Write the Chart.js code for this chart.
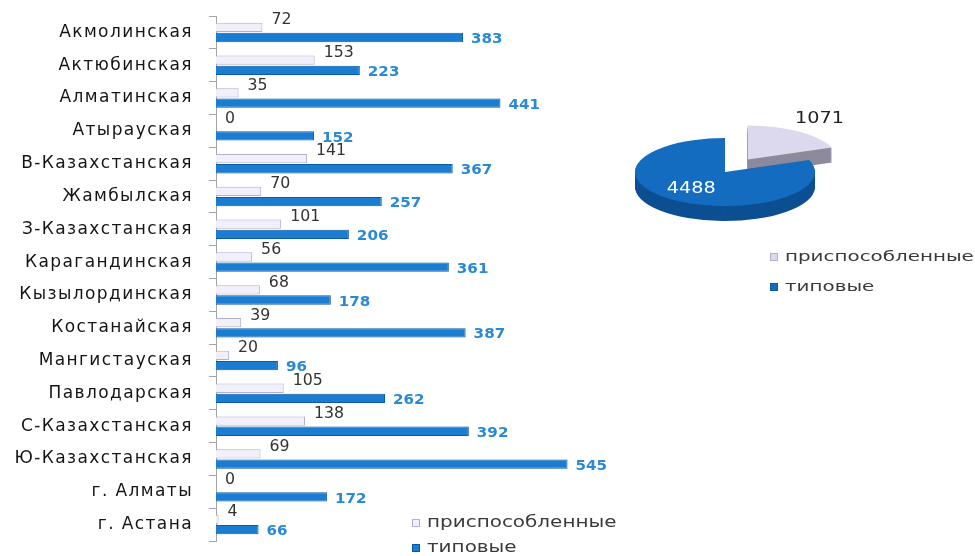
<!DOCTYPE html>
<html>
<head>
<meta charset="utf-8">
<script src="https://cdn.jsdelivr.net/npm/chart.js@4.4.1/dist/chart.umd.min.js"></script>
<style>
  html, body { margin: 0; padding: 0; background: #fff; }
  #wrap { position: relative; width: 975px; height: 556px; overflow: hidden; }
  #bars { position: absolute; left: 0; top: 0; }
  #pie { position: absolute; left: 600px; top: 62px; }
</style>
</head>
<body>
<div id="wrap">
  <canvas id="bars" width="660" height="556"></canvas>
  <canvas id="pie" width="375" height="262"></canvas>
</div>
<script>
const regions = [
  'Акмолинская', 'Актюбинская', 'Алматинская', 'Атырауская', 'В-Казахстанская',
  'Жамбылская', 'З-Казахстанская', 'Карагандинская', 'Кызылординская', 'Костанайская',
  'Мангистауская', 'Павлодарская', 'С-Казахстанская', 'Ю-Казахстанская', 'г. Алматы', 'г. Астана'
];
const adapted = [72, 153, 35, 0, 141, 70, 101, 56, 68, 39, 20, 105, 138, 69, 0, 4];
const typical = [383, 223, 441, 152, 367, 257, 206, 361, 178, 387, 96, 262, 392, 545, 172, 66];

const pieLabels = ['приспособленные', 'типовые'];
const pieTotals = [1071, 4488];

const lightFill = '#f1eff9', lightEdge = '#b3aed3';
const blueFill = '#1a7dd2', blueEdge = '#0b5aa6';
const font = 'DejaVu Sans';

// the source picture is stretched sideways, so text is widened to match
function wideText(ctx, text, x, y, sx) {
  ctx.save();
  ctx.translate(x, y);
  ctx.scale(sx, 1);
  ctx.fillText(text, 0, 0);
  ctx.restore();
}

function drawLegend(ctx, items, x, y, gap, size, sx) {
  ctx.save();
  ctx.font = size + 'px "' + font + '"';
  ctx.textBaseline = 'middle';
  ctx.textAlign = 'left';
  items.forEach((it, i) => {
    const yy = y + i * gap;
    ctx.fillStyle = it.fill;
    ctx.fillRect(x, yy - 4, 8, 8);
    ctx.strokeStyle = it.edge;
    ctx.lineWidth = 1;
    ctx.strokeRect(x + 0.5, yy - 3.5, 7, 7);
    ctx.fillStyle = '#3a3a3a';
    wideText(ctx, it.text, x + 15, yy, sx);
  });
  ctx.restore();
}

const barLabels = {
  id: 'barLabels',
  beforeDraw(chart) {
    chart.ctx.letterSpacing = '1.4px';
  },
  beforeDatasetsDraw(chart) {
    chart.ctx.letterSpacing = '0px';
  },
  afterDatasetsDraw(chart) {
    const ctx = chart.ctx;
    ctx.save();
    ctx.textBaseline = 'middle';
    ctx.textAlign = 'left';
    chart.data.datasets.forEach((ds, i) => {
      chart.getDatasetMeta(i).data.forEach((bar, j) => {
        if (i === 0) {
          ctx.font = '15px "' + font + '"';
          ctx.fillStyle = '#333';
          wideText(ctx, ds.data[j], bar.x + 9, bar.y - 7, 1.05);
        } else {
          ctx.font = 'bold 14px "' + font + '"';
          ctx.fillStyle = '#2a89d6';
          wideText(ctx, ds.data[j], bar.x + 8, bar.y + 2, 1.08);
        }
      });
    });
    ctx.restore();
  },
  afterDraw(chart) {
    drawLegend(chart.ctx, chart.data.datasets.map(d => ({
      text: d.label, fill: d.backgroundColor, edge: d.borderColor
    })), 412, 523, 25, 15, 1.33);
  }
};

new Chart(document.getElementById('bars'), {
  type: 'bar',
  data: {
    labels: regions,
    datasets: [
      {
        label: 'приспособленные',
        data: adapted,
        backgroundColor: lightFill,
        borderColor: lightEdge,
        borderWidth: 1,
        categoryPercentage: 0.62,
        barPercentage: 0.92
      },
      {
        label: 'типовые',
        data: typical,
        backgroundColor: blueFill,
        borderColor: blueEdge,
        borderWidth: 1,
        categoryPercentage: 0.62,
        barPercentage: 0.92
      }
    ]
  },
  options: {
    indexAxis: 'y',
    responsive: false,
    animation: false,
    layout: { padding: { left: 0, right: 57, top: 16, bottom: 15 } },
    scales: {
      x: { min: 0, max: 600, display: false },
      y: {
        afterFit: s => { s.width = 216; s.paddingTop = 0; s.paddingBottom = 0; },
        border: { color: '#a5a5a5' },
        grid: { drawOnChartArea: false, tickLength: 7, color: '#a5a5a5' },
        ticks: { color: '#151515', padding: 16, font: { family: font, size: 17 } }
      }
    },
    plugins: {
      legend: { display: false },
      tooltip: { enabled: false }
    }
  },
  plugins: [barLabels]
});

// flattened pie with depth, drawn from the arc elements
const pie3d = {
  id: 'pie3d',
  beforeDatasetsDraw(chart) {
    const ctx = chart.ctx;
    const k = 0.378, depth = 15, explode = [40, 0];
    const sides = ['#8c8a9c', '#0c4f92'];
    const ds = chart.data.datasets[0];
    const faces = chart.getDatasetMeta(0).data.map((arc, i) => {
      const p = arc.getProps(['x', 'y', 'startAngle', 'endAngle', 'outerRadius']);
      const mid = (p.startAngle + p.endAngle) / 2;
      return Object.assign(p, {
        ox: Math.cos(mid) * explode[i], oy: Math.sin(mid) * explode[i],
        top: ds.backgroundColor[i], side: sides[i]
      });
    });
    const fillFace = (f, dy, color) => {
      ctx.save();
      ctx.translate(0, f.y + dy);
      ctx.scale(1, k);
      ctx.translate(f.ox, f.oy - f.y);
      ctx.beginPath();
      ctx.moveTo(f.x, f.y);
      ctx.arc(f.x, f.y, f.outerRadius, f.startAngle, f.endAngle);
      ctx.closePath();
      ctx.fillStyle = color;
      ctx.fill();
      ctx.restore();
    };
    faces.forEach(f => { for (let d = depth; d > 0; d--) fillFace(f, d, f.side); });
    faces.forEach(f => fillFace(f, 0, f.top));
    chart.$faces = faces;
    chart.$k = k;
    return false;
  },
  afterDraw(chart) {
    const ctx = chart.ctx, k = chart.$k;
    const ds = chart.data.datasets[0];
    ctx.save();
    ctx.textAlign = 'center';
    ctx.textBaseline = 'middle';
    ctx.font = '16px "' + font + '"';
    chart.$faces.forEach((f, i) => {
      const mid = (f.startAngle + f.endAngle) / 2;
      const r = f.outerRadius * (i === 0 ? 1.4 : 0.66);
      const x = f.x + f.ox + Math.cos(mid) * r;
      const y = f.y + (f.oy + Math.sin(mid) * r) * k;
      ctx.fillStyle = i === 0 ? '#222' : '#fff';
      wideText(ctx, ds.data[i], x, y - 2, 1.2);
    });
    ctx.restore();
    drawLegend(ctx, chart.data.labels.map((l, i) => ({
      text: l, fill: ds.backgroundColor[i], edge: i === 0 ? lightEdge : blueEdge
    })), 170, 195, 30, 14, 1.42);
  }
};

new Chart(document.getElementById('pie'), {
  type: 'pie',
  data: {
    labels: pieLabels,
    datasets: [{ data: pieTotals, backgroundColor: ['#dcd9ee', '#136cc0'], borderWidth: 0 }]
  },
  options: {
    responsive: false,
    animation: false,
    layout: { padding: { left: 35, right: 160, top: 20, bottom: 62 } },
    plugins: { legend: { display: false }, tooltip: { enabled: false } }
  },
  plugins: [pie3d]
});
</script>
</body>
</html>
